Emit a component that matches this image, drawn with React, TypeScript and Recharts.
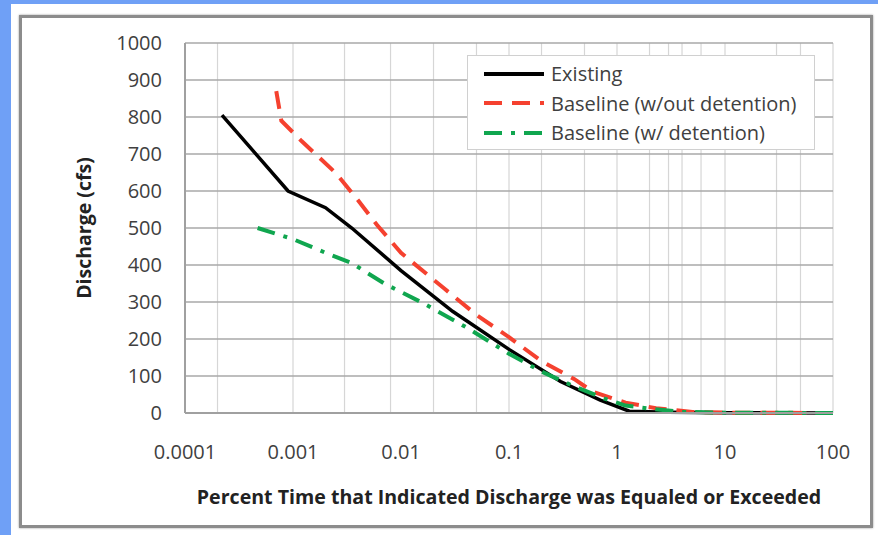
import React from "react";
import { LineChart, Line, XAxis, YAxis, CartesianGrid, Legend } from "recharts";

// ── values ──────────────────────────────────────────────────────────────────
const X_TICKS = [0.0001, 0.001, 0.01, 0.1, 1, 10, 100];
const X_TICK_LABELS = ["0.0001", "0.001", "0.01", "0.1", "1", "10", "100"];
const Y_TICKS = [0, 100, 200, 300, 400, 500, 600, 700, 800, 900, 1000];

const EXISTING_X = [0.00022, 0.0009, 0.002, 0.0035, 0.01, 0.03, 0.1, 0.3, 0.7, 1.3, 3, 10, 100];
const EXISTING_Y = [805, 600, 555, 500, 385, 275, 172, 85, 35, 5, 2, 1, 0];

const NO_DET_X = [0.0007, 0.00078, 0.0012, 0.0025, 0.004, 0.006, 0.01, 0.025, 0.05, 0.1, 0.2, 0.4, 0.6, 1.2, 2.3, 5, 10, 100];
const NO_DET_Y = [870, 790, 735, 648, 575, 508, 433, 337, 265, 205, 140, 92, 57, 28, 13, 3, 1, 0];

const DET_X = [0.00047, 0.001, 0.002, 0.0035, 0.007, 0.016, 0.04, 0.1, 0.2, 0.4, 0.75, 1.2, 2, 4, 10, 100];
const DET_Y = [500, 470, 433, 405, 350, 297, 232, 160, 112, 72, 40, 20, 12, 3, 1, 0];

const toPoints = (xs: number[], ys: number[]) => xs.map((x, i) => ({ x, y: ys[i] }));

// minor log grid: 1..9 in every decade
const MINOR_X: number[] = [];
for (let d = -4; d < 2; d++) {
  for (let m = 1; m < 10; m++) MINOR_X.push(m * Math.pow(10, d));
}
MINOR_X.push(100);

const SERIES = [
  { name: "Existing", data: toPoints(EXISTING_X, EXISTING_Y), color: "#000000", dash: undefined as string | undefined },
  { name: "Baseline (w/out detention)", data: toPoints(NO_DET_X, NO_DET_Y), color: "#f5412f", dash: "18 10" },
  { name: "Baseline (w/ detention)", data: toPoints(DET_X, DET_Y), color: "#10a64f", dash: "18 9 4 9" },
];

const TEXT = "#404040";
const FONT = "'Open Sans', sans-serif";

function LegendBox() {
  return (
    <div
      style={{
        background: "#fff",
        border: "1px solid #d0d0d0",
        boxSizing: "border-box",
        width: 348,
        height: 95,
        paddingTop: 3,
        fontFamily: FONT,
        fontSize: 20,
        color: TEXT,
      }}
    >
      {SERIES.map((s) => (
        <div key={s.name} style={{ display: "flex", alignItems: "center", height: 29.5 }}>
          <svg width={76} height={10} style={{ flex: "none" }}>
            <line x1={16} y1={5} x2={76} y2={5} stroke={s.color} strokeWidth={4} strokeDasharray={s.dash} />
          </svg>
          <span style={{ marginLeft: 7, whiteSpace: "nowrap" }}>{s.name}</span>
        </div>
      ))}
    </div>
  );
}

export default function App() {
  return (
    <div style={{ position: "relative", width: 878, height: 535, background: "#6fa0f6", overflow: "hidden" }}>
      <style>{`body{margin:0}`}</style>
      <div style={{ position: "absolute", left: 11, top: 4, right: 0, bottom: 0, background: "#fff" }} />
      <div
        style={{
          position: "absolute",
          left: 19,
          top: 15,
          width: 854,
          height: 513,
          boxSizing: "border-box",
          border: "3px solid #8c8c8c",
          boxShadow: "0 0 2px #9a9a9a",
        }}
      />
      <div style={{ position: "absolute", left: 0, top: 0 }}>
        <LineChart width={878} height={535} margin={{ top: 43, right: 45, left: 0, bottom: 12 }}>
          <CartesianGrid horizontal={false} verticalValues={MINOR_X} stroke="#d6d6d6" strokeWidth={1.2} />
          <CartesianGrid vertical={false} stroke="#a8a8a8" strokeWidth={1.6} />
          <XAxis
            dataKey="x"
            type="number"
            scale="log"
            domain={[0.0001, 100]}
            ticks={X_TICKS}
            allowDataOverflow
            height={110}
            tickLine={false}
            tickSize={6}
            tickMargin={26}
            stroke="#a0a0a0"
            strokeWidth={2}
            tick={{ fill: TEXT, fontSize: 20, fontFamily: FONT }}
            tickFormatter={(v: number) => X_TICK_LABELS[X_TICKS.indexOf(v)] ?? String(v)}
            label={{
              value: "Percent Time that Indicated Discharge was Equaled or Exceeded",
              position: "insideBottom",
              offset: 19,
              style: { fill: "#222", fontSize: 19.6, fontWeight: 700, fontFamily: FONT },
            }}
          />
          <YAxis
            dataKey="y"
            type="number"
            domain={[0, 1000]}
            ticks={Y_TICKS}
            width={185}
            tickLine={false}
            tickSize={6}
            tickMargin={17}
            stroke="#a0a0a0"
            strokeWidth={2}
            tick={{ fill: TEXT, fontSize: 20, fontFamily: FONT }}
            label={{
              value: "Discharge (cfs)",
              angle: -90,
              position: "insideLeft",
              offset: 84,
              style: { fill: "#222", fontSize: 19.5, fontWeight: 700, fontFamily: FONT, textAnchor: "middle" },
            }}
          />
          <Legend
            layout="vertical"
            align="center"
            verticalAlign="middle"
            wrapperStyle={{ left: 467, top: 55, width: 348 }}
            content={() => <LegendBox />}
          />
          {SERIES.map((s) => (
            <Line
              key={s.name}
              data={s.data}
              dataKey="y"
              name={s.name}
              type="linear"
              stroke={s.color}
              strokeWidth={s.dash ? 4 : 3.5}
              strokeDasharray={s.dash}
              dot={false}
              activeDot={false}
              isAnimationActive={false}
            />
          ))}
        </LineChart>
      </div>
    </div>
  );
}
